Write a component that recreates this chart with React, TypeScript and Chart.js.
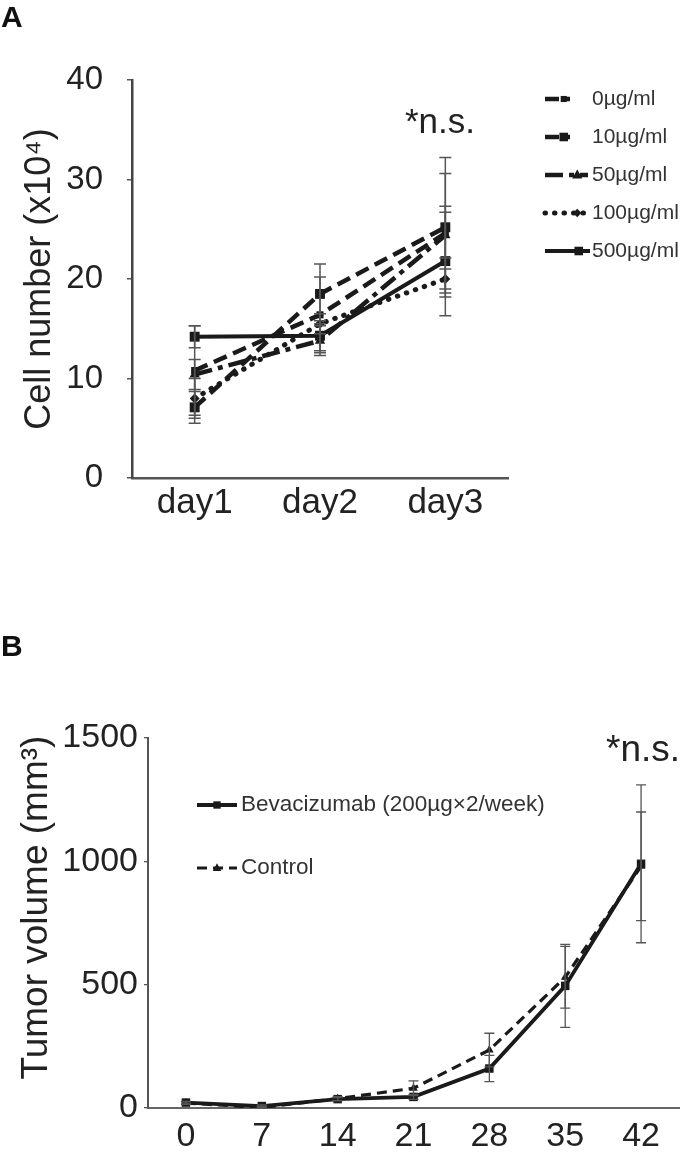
import React, { useEffect, useRef } from 'react';
import { Chart, registerables } from 'chart.js';

Chart.register(...registerables);

const FONT = "'Liberation Sans', Arial, Helvetica, sans-serif";

// ---------- Panel A data ----------
const daysA = ['day1', 'day2', 'day3'];
const labelsA = ['0µg/ml', '10µg/ml', '50µg/ml', '100µg/ml', '500µg/ml'];
const conc0 = [10.8, 16.4, 24.6];
const conc0Err = [4.5, 3.8, 6.0];
const conc10 = [7.1, 18.5, 25.2];
const conc10Err = [1.6, 3.0, 7.0];
const conc50 = [10.4, 13.8, 24.4];
const conc50Err = [1.5, 1.5, 2.3];
const conc100 = [8.0, 15.5, 20.0];
const conc100Err = [2.0, 1.0, 1.0];
const conc500 = [14.2, 14.3, 21.8];
const conc500Err = [1.1, 1.5, 5.5];
const yMaxA = 40;
const yStepA = 10;

// ---------- Panel B data ----------
const daysB = ['0', '7', '14', '21', '28', '35', '42'];
const labelsB = ['Bevacizumab (200µg×2/week)', 'Control'];
const bev = [22, 8, 36, 45, 160, 495, 990];
const bevErr = [5, 5, 6, 10, 53, 168, 320];
const control = [20, 2, 38, 80, 235, 530, 980];
const controlErr = [5, 5, 8, 30, 68, 125, 220];
const yMaxB = 1500;
const yStepB = 500;

const INK = '#1a1a1a';

function drawMarker(ctx: CanvasRenderingContext2D, style: string, x: number, y: number, r: number, color: string) {
  ctx.save();
  ctx.fillStyle = color;
  ctx.beginPath();
  if (style === 'triangle') {
    ctx.moveTo(x, y - r * 1.1);
    ctx.lineTo(x + r, y + r * 0.7);
    ctx.lineTo(x - r, y + r * 0.7);
    ctx.closePath();
  } else if (style === 'rectRot') {
    ctx.moveTo(x, y - r);
    ctx.lineTo(x + r, y);
    ctx.lineTo(x, y + r);
    ctx.lineTo(x - r, y);
    ctx.closePath();
  } else {
    const s = r * 0.72;
    ctx.rect(x - s, y - s, 2 * s, 2 * s);
  }
  ctx.fill();
  ctx.restore();
}

const errorBarPlugin = {
  id: 'errorBars',
  afterDatasetsDraw(chart: any, _args: any, opts: any) {
    const ctx = chart.ctx as CanvasRenderingContext2D;
    const yScale = chart.scales.y;
    ctx.save();
    ctx.strokeStyle = opts.color;
    ctx.lineWidth = opts.width;
    ctx.setLineDash([]);
    chart.data.datasets.forEach((ds: any, i: number) => {
      const errs = ds.errors;
      if (!errs) return;
      const meta = chart.getDatasetMeta(i);
      meta.data.forEach((pt: any, j: number) => {
        const v = ds.data[j];
        const e = errs[j];
        const x = pt.x;
        const yT = yScale.getPixelForValue(v + e);
        const yB = yScale.getPixelForValue(Math.max(v - e, 0));
        ctx.beginPath();
        ctx.moveTo(x, yT);
        ctx.lineTo(x, yB);
        ctx.moveTo(x - opts.cap, yT);
        ctx.lineTo(x + opts.cap, yT);
        ctx.moveTo(x - opts.cap, yB);
        ctx.lineTo(x + opts.cap, yB);
        ctx.stroke();
      });
    });
    ctx.restore();
  },
};

const legendPlugin = {
  id: 'customLegend',
  afterDraw(chart: any, _args: any, opts: any) {
    const ctx = chart.ctx as CanvasRenderingContext2D;
    ctx.save();
    chart.data.datasets.forEach((ds: any, i: number) => {
      const y = opts.y + i * opts.dy;
      const len = opts.lengths[i];
      ctx.setLineDash(ds.borderDash || []);
      ctx.lineCap = ds.borderCapStyle || 'butt';
      ctx.lineWidth = ds.borderWidth;
      ctx.strokeStyle = ds.borderColor;
      ctx.beginPath();
      ctx.moveTo(opts.x, y);
      ctx.lineTo(opts.x + len, y);
      ctx.stroke();
      ctx.setLineDash([]);
      drawMarker(ctx, ds.pointStyle, opts.x + len * opts.markerAt, y, ds.pointRadius * 0.85, ds.pointBackgroundColor);
      ctx.fillStyle = opts.color;
      ctx.font = opts.font;
      ctx.textBaseline = 'middle';
      ctx.textAlign = 'left';
      ctx.fillText(ds.label, opts.textX, y);
    });
    ctx.restore();
  },
};

const annotPlugin = {
  id: 'annot',
  afterDraw(chart: any, _args: any, opts: any) {
    const ctx = chart.ctx as CanvasRenderingContext2D;
    ctx.save();
    ctx.fillStyle = opts.color;
    ctx.font = opts.font;
    ctx.textAlign = 'center';
    ctx.textBaseline = 'alphabetic';
    ctx.fillText(opts.text, opts.x, opts.y);
    ctx.restore();
  },
};

function lineDs(label: string, data: number[], errors: number[], extra: any) {
  return {
    label,
    data,
    errors,
    borderColor: INK,
    pointBackgroundColor: INK,
    pointBorderColor: INK,
    pointBorderWidth: 0,
    fill: false,
    tension: 0,
    ...extra,
  };
}

const plainTick = (v: any) => String(v);

function makeConfigA(): any {
  return {
    type: 'line',
    data: {
      labels: daysA,
      datasets: [
        lineDs(labelsA[0], conc0, conc0Err, { borderWidth: 4.5, borderDash: [14, 7], pointStyle: 'rect', pointRadius: 5 }),
        lineDs(labelsA[1], conc10, conc10Err, { borderWidth: 4.5, borderDash: [14, 7], pointStyle: 'rect', pointRadius: 7 }),
        lineDs(labelsA[2], conc50, conc50Err, { borderWidth: 4.5, borderDash: [18, 6, 5, 6], pointStyle: 'triangle', pointRadius: 6 }),
        lineDs(labelsA[3], conc100, conc100Err, { borderWidth: 5, borderDash: [0.5, 9], borderCapStyle: 'round', pointStyle: 'rectRot', pointRadius: 5 }),
        lineDs(labelsA[4], conc500, conc500Err, { borderWidth: 4, borderDash: [], pointStyle: 'rect', pointRadius: 7 }),
      ],
    },
    options: {
      responsive: false,
      animation: false,
      layout: { padding: { left: 0, right: 177, top: 80, bottom: 0 } },
      plugins: {
        legend: { display: false },
        tooltip: { enabled: false },
        errorBars: { color: '#555', width: 1.5, cap: 6 },
        customLegend: {
          x: 545, y: 99, dy: 38, lengths: [25, 25, 43, 43, 45], markerAt: 0.75,
          textX: 592, font: `21px ${FONT}`, color: '#333',
        },
        annot: { text: '*n.s.', x: 440, y: 133, font: `35px ${FONT}`, color: '#222' },
      },
      scales: {
        x: {
          offset: true,
          grid: { display: false, drawTicks: false },
          border: { display: true, color: '#555', width: 2.5 },
          ticks: { padding: 4, color: '#222', font: { size: 35, family: FONT } },
          afterFit: (s: any) => { s.height = 67; },
        },
        y: {
          min: 0,
          max: yMaxA,
          ticks: { stepSize: yStepA, padding: 24, color: '#222', font: { size: 33, family: FONT }, callback: plainTick },
          grid: { display: true, drawOnChartArea: false, drawTicks: true, tickLength: 5, color: '#555', lineWidth: 1.5 },
          border: { display: true, color: '#444', width: 2.5 },
          title: {
            display: true, text: 'Cell number (x10⁴)', color: '#222',
            font: { size: 36, family: FONT }, padding: { top: 18, bottom: 0 },
          },
          afterFit: (s: any) => { s.width = 132; },
        },
      },
    },
    plugins: [errorBarPlugin, legendPlugin, annotPlugin],
  };
}

function makeConfigB(): any {
  return {
    type: 'line',
    data: {
      labels: daysB,
      datasets: [
        lineDs(labelsB[0], bev, bevErr, { borderWidth: 3.8, borderDash: [], pointStyle: 'rect', pointRadius: 6 }),
        lineDs(labelsB[1], control, controlErr, { borderWidth: 3.2, borderDash: [10, 6], pointStyle: 'triangle', pointRadius: 5 }),
      ],
    },
    options: {
      responsive: false,
      animation: false,
      layout: { padding: { left: 0, right: 1, top: 178, bottom: 0 } },
      plugins: {
        legend: { display: false },
        tooltip: { enabled: false },
        errorBars: { color: '#555', width: 1.3, cap: 5 },
        customLegend: {
          x: 197, y: 245, dy: 63, lengths: [40, 40], markerAt: 0.5,
          textX: 241, font: `22.5px ${FONT}`, color: '#333',
        },
        annot: { text: '*n.s.', x: 643, y: 201, font: `37px ${FONT}`, color: '#222' },
      },
      scales: {
        x: {
          offset: true,
          grid: { display: false, drawTicks: false },
          border: { display: true, color: '#666', width: 2 },
          ticks: { padding: 8, color: '#222', font: { size: 34, family: FONT } },
          afterFit: (s: any) => { s.height = 50; },
        },
        y: {
          min: 0,
          max: yMaxB,
          ticks: { stepSize: yStepB, padding: 6, color: '#222', font: { size: 34, family: FONT }, callback: plainTick },
          grid: { display: true, drawOnChartArea: false, drawTicks: true, tickLength: 4, color: '#555', lineWidth: 1.3 },
          border: { display: true, color: '#555', width: 2 },
          title: {
            display: true, text: '   Tumor volume (mm³)', color: '#222',
            font: { size: 37, family: FONT }, padding: { top: 15, bottom: 0 },
          },
          afterFit: (s: any) => { s.width = 148; },
        },
      },
    },
    plugins: [errorBarPlugin, legendPlugin, annotPlugin],
  };
}

function ChartCanvas({ make, width, height, top }: { make: () => any; width: number; height: number; top: number }) {
  const ref = useRef<HTMLCanvasElement>(null);
  useEffect(() => {
    const chart = new Chart(ref.current as HTMLCanvasElement, make());
    return () => chart.destroy();
  }, []);
  return (
    <canvas
      ref={ref}
      width={width}
      height={height}
      style={{ position: 'absolute', left: 0, top, display: 'block' }}
    />
  );
}

export default function App() {
  return (
    <div style={{ position: 'absolute', left: 0, top: 0, width: 685, height: 1158, background: '#fff', overflow: 'hidden' }}>
      <ChartCanvas make={makeConfigA} width={685} height={545} top={0} />
      <ChartCanvas make={makeConfigB} width={685} height={598} top={560} />
      <div style={{ position: 'absolute', left: 1, top: 2, fontFamily: FONT, fontWeight: 'bold', fontSize: 30, lineHeight: 1, color: '#111' }}>A</div>
      <div style={{ position: 'absolute', left: 1, top: 631, fontFamily: FONT, fontWeight: 'bold', fontSize: 30, lineHeight: 1, color: '#111' }}>B</div>
    </div>
  );
}
